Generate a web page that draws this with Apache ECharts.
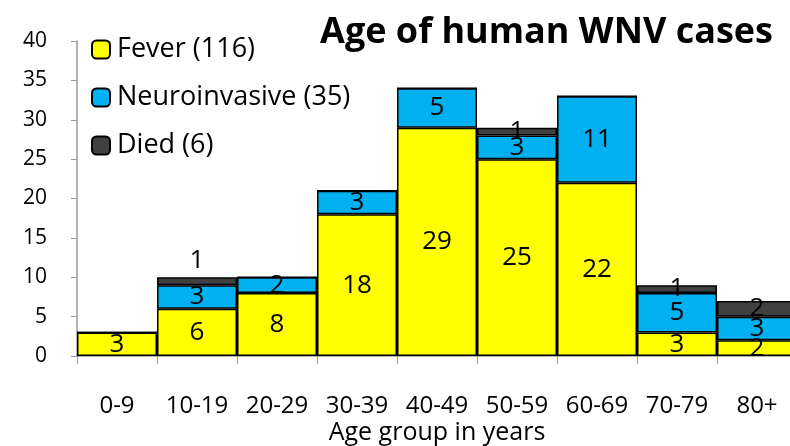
<!DOCTYPE html>
<html>
<head>
<meta charset="utf-8">
<script src="https://cdn.jsdelivr.net/npm/echarts@6/dist/echarts.min.js"></script>
<style>
  html, body { margin: 0; padding: 0; background: #fff; }
  #chart { width: 790px; height: 446px; }
</style>
</head>
<body>
<div id="chart"></div>
<script>
// age groups on the x axis
var ageGroups = ["0-9", "10-19", "20-29", "30-39", "40-49", "50-59", "60-69", "70-79", "80+"];
// case counts per group
var fever = [3, 6, 8, 18, 29, 25, 22, 3, 2];
var neuro = [0, 3, 2, 3, 5, 3, 11, 5, 3];
var died = [0, 1, 0, 0, 0, 1, 0, 1, 2];
var seriesNames = ["Fever (116)", "Neuroinvasive (35)", "Died (6)"];

var font = "Open Sans";
var chart = echarts.init(document.getElementById("chart"));

function hideZero(p) {
  return p.value ? String(p.value) : "";
}

function barSeries(name, data, color) {
  return {
    name: name,
    type: "bar",
    stack: "total",
    barCategoryGap: 0,
    data: data,
    itemStyle: { color: color, borderColor: "#000", borderWidth: 1.5 },
    label: {
      show: true,
      position: "inside",
      formatter: hideZero,
      color: "#000",
      fontFamily: font,
      fontSize: 26
    }
  };
}

// the "1" died label of 10-19 sits above its bar
var diedData = died.map(function (v, i) {
  return i === 1 ? { value: v, label: { position: "top", distance: 4 } } : v;
});

var option = {
  animation: false,
  textStyle: { fontFamily: font },
  title: {
    text: "Age of human WNV cases",
    right: 12,
    top: 10,
    textStyle: { fontFamily: font, fontSize: 36, fontWeight: "bold", color: "#000" }
  },
  legend: {
    orient: "vertical",
    left: 86,
    top: 31,
    itemWidth: 18,
    itemHeight: 18,
    itemGap: 21,
    textStyle: { fontFamily: font, fontSize: 27, color: "#000", padding: [0, 0, 0, 2] },
    data: seriesNames
  },
  grid: { left: 77, top: 41, width: 720, height: 315, outerBoundsMode: "none" },
  xAxis: {
    type: "category",
    data: ageGroups,
    name: "Age group in years",
    nameLocation: "middle",
    nameGap: 64,
    nameMoveOverlap: false,
    nameTextStyle: { fontFamily: font, fontSize: 25, color: "#000" },
    axisLine: { lineStyle: { color: "#999", width: 1.5 } },
    axisTick: { show: true, length: 8, lineStyle: { color: "#999" } },
    axisLabel: { interval: 0, fontFamily: font, fontSize: 24, color: "#000", margin: 38 }
  },
  yAxis: {
    type: "value",
    min: 0,
    max: 40,
    interval: 5,
    splitLine: { show: false },
    axisLine: { show: true, lineStyle: { color: "#999", width: 1.5 } },
    axisTick: { show: true, length: 6, lineStyle: { color: "#999" } },
    axisLabel: { fontFamily: font, fontSize: 21, color: "#000", margin: 30 }
  },
  series: [
    barSeries(seriesNames[0], fever, "#FFFF00"),
    barSeries(seriesNames[1], neuro, "#00B0F0"),
    barSeries(seriesNames[2], diedData, "#404040")
  ]
};

chart.setOption(option);
</script>
</body>
</html>
